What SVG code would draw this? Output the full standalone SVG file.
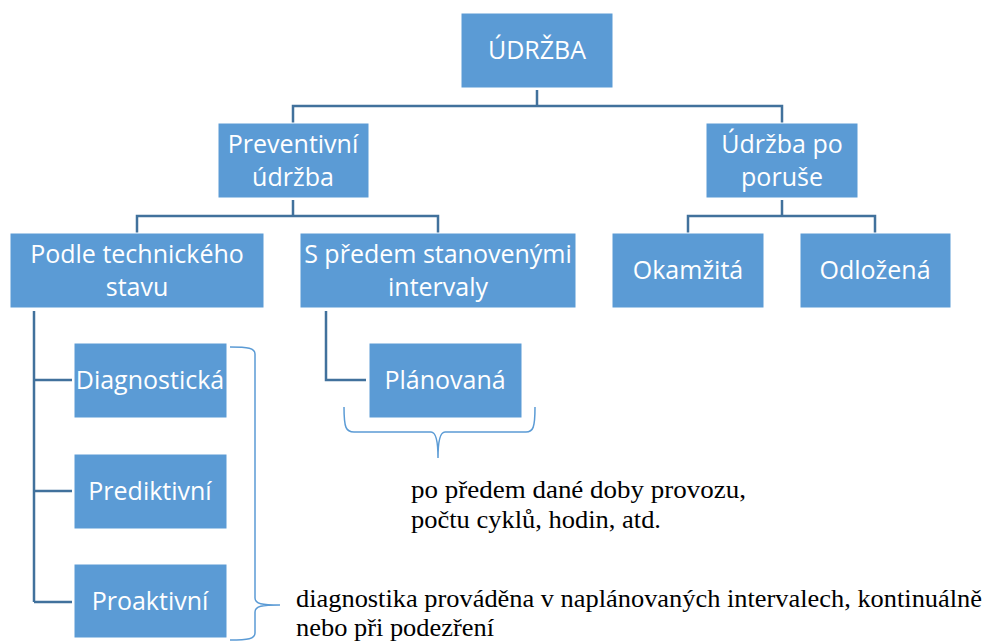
<svg xmlns="http://www.w3.org/2000/svg" width="991" height="644" viewBox="0 0 991 644">
<style>
.box{fill:#5B9BD5;stroke:#ffffff;stroke-width:1}
.lbl{font-family:"Open Sans","Noto Sans",sans-serif;font-size:25px;fill:#ffffff;text-anchor:middle}
.con{fill:none;stroke:#41719C;stroke-width:2.5}
.brace{fill:none;stroke:#5B9BD5;stroke-width:1.5}
.note{font-family:"Liberation Serif",serif;font-size:25px;fill:#000000}
</style>
<rect width="991" height="644" fill="#ffffff"/>
<g id="connectors">
<path class="con" d="M537,90 V106 M293,124 V106 H782 V124"/>
<path class="con" d="M293,200 V216 M137,233 V216 H438 V233"/>
<path class="con" d="M782,200 V216 M688,233 V216 H875 V233"/>
<path class="con" d="M34,311 V602 M34,380 H72 M34,491 H72 M34,602 H72"/>
<path class="con" d="M326,311 V380 H366"/>
</g>
<g id="udrzba"><rect class="box" x="461" y="13" width="152" height="75"/><text class="lbl" x="537" y="59">ÚDRŽBA</text></g>
<g id="preventivni"><rect class="box" x="218" y="123" width="151" height="75"/><text class="lbl" x="293" y="153">Preventivní</text><text class="lbl" x="293" y="186">údržba</text></g>
<g id="po-poruse"><rect class="box" x="706" y="123" width="152" height="75"/><text class="lbl" x="782" y="153">Údržba po</text><text class="lbl" x="782" y="186">poruše</text></g>
<g id="podle-stavu"><rect class="box" x="10" y="233" width="254" height="75"/><text class="lbl" x="137" y="263">Podle technického</text><text class="lbl" x="137" y="296">stavu</text></g>
<g id="intervaly"><rect class="box" x="300" y="233" width="276" height="75"/><text class="lbl" x="438" y="263">S předem stanovenými</text><text class="lbl" x="438" y="296">intervaly</text></g>
<g id="okamzita"><rect class="box" x="612" y="233" width="152" height="75"/><text class="lbl" x="688" y="279">Okamžitá</text></g>
<g id="odlozena"><rect class="box" x="800" y="233" width="151" height="75"/><text class="lbl" x="875" y="279">Odložená</text></g>
<g id="diagnosticka"><rect class="box" x="74" y="343" width="153" height="75"/><text class="lbl" x="150" y="389">Diagnostická</text></g>
<g id="prediktivni"><rect class="box" x="74" y="454" width="153" height="75"/><text class="lbl" x="150" y="500">Prediktivní</text></g>
<g id="proaktivni"><rect class="box" x="74" y="564" width="153" height="74"/><text class="lbl" x="150" y="610">Proaktivní</text></g>
<g id="planovana"><rect class="box" x="369" y="343" width="153" height="75"/><text class="lbl" x="445" y="389">Plánovaná</text></g>
<g id="braces">
<path class="brace" d="M230,347 C248,347 255,348 255,354 V598 C255,604 262,605 280,605 C262,605 255,606 255,612 V633 C255,639 248,640 230,640"/>
<path class="brace" d="M344,407 C344,428 346,432 354,432 H431 C436,432 438,440 438,458 C438,440 440,432 445,432 H526 C533,432 535,428 535,407"/>
</g>
<g id="notes">
<text class="note" x="411" y="498" textLength="335" lengthAdjust="spacingAndGlyphs">po předem dané doby provozu,</text>
<text class="note" x="411" y="528" textLength="250" lengthAdjust="spacingAndGlyphs">počtu cyklů, hodin, atd.</text>
<text class="note" x="296" y="607" textLength="686" lengthAdjust="spacingAndGlyphs">diagnostika prováděna v naplánovaných intervalech, kontinuálně</text>
<text class="note" x="296" y="636" textLength="198" lengthAdjust="spacingAndGlyphs">nebo při podezření</text>
</g>
</svg>
